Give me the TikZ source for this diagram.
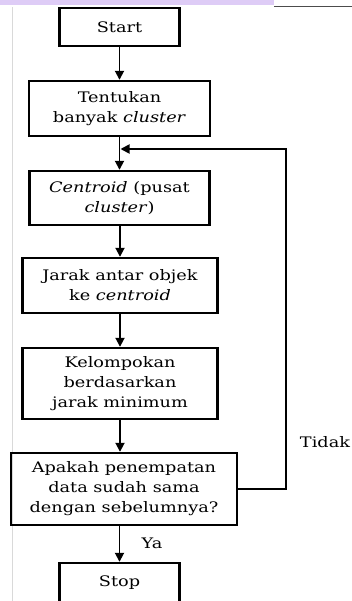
\documentclass[tikz,border=0pt]{standalone}
\usepackage{fontspec}
\setmainfont[FakeStretch=1.22]{DejaVu Serif}
\usetikzlibrary{arrows.meta}
\definecolor{lavender}{RGB}{222,204,246}
\begin{document}
\begin{tikzpicture}[x=1pt,y=-1pt,
    box/.style={draw,line width=2.4pt,align=center,inner sep=0pt,
      font=\fontsize{14.5}{20}\selectfont},
    link/.style={line width=1.8pt,-{Triangle[length=9pt,width=9pt]}},
    lbl/.style={font=\fontsize{14.5}{16}\selectfont}]
      \useasboundingbox (0,0) rectangle (352,601);
      % page edges
      \fill[lavender] (0,0) rectangle (274,5.5);
      \draw[line width=0.8pt,black!70] (274,6) -- (352,6);
      \draw[line width=0.8pt,black!15] (12,7) -- (12,601);
      % boxes
      \node[box,minimum width=120pt,minimum height=38pt] (start) at (119.5,27) {Start};
      \node[box,minimum width=181pt,minimum height=55pt] (tentukan) at (119.5,108.5)
        {Tentukan\\banyak \textit{cluster}};
      \node[box,minimum width=180pt,minimum height=54pt] (centroid) at (119.5,198)
        {\textit{Centroid} (pusat\\\textit{cluster})};
      \node[box,minimum width=195pt,minimum height=55pt] (jarak) at (120,285.5)
        {Jarak antar objek\\ke \textit{centroid}};
      \node[box,minimum width=195pt,minimum height=71pt] (kelompok) at (120,383.5)
        {Kelompokan\\berdasarkan\\jarak minimum};
      \node[box,minimum width=226pt,minimum height=72pt] (apakah) at (124,489)
        {Apakah penempatan\\data sudah sama\\dengan sebelumnya?};
      \node[box,minimum width=120pt,minimum height=40pt] (stop) at (119.5,583) {Stop};
      \node[lbl] (tidak) at (325,442) {Tidak};
      \node[lbl] (ya) at (152,543) {Ya};
      \coordinate (loop) at (286,149);
      \coordinate (join) at (120.5,149);
      % connectors
      \begin{scope}[link]
        \draw (start) to (tentukan);
        \draw (tentukan) to (centroid);
        \draw (centroid.south -| jarak) to (jarak);
        \draw (jarak) to (kelompok);
        \draw (kelompok.south) to (kelompok.south |- apakah.north);
        \draw (stop.north |- apakah.south) to (stop.north);
        \draw (apakah.east) -| (loop) -- (join);
      \end{scope}
    \end{tikzpicture}
\end{document}
